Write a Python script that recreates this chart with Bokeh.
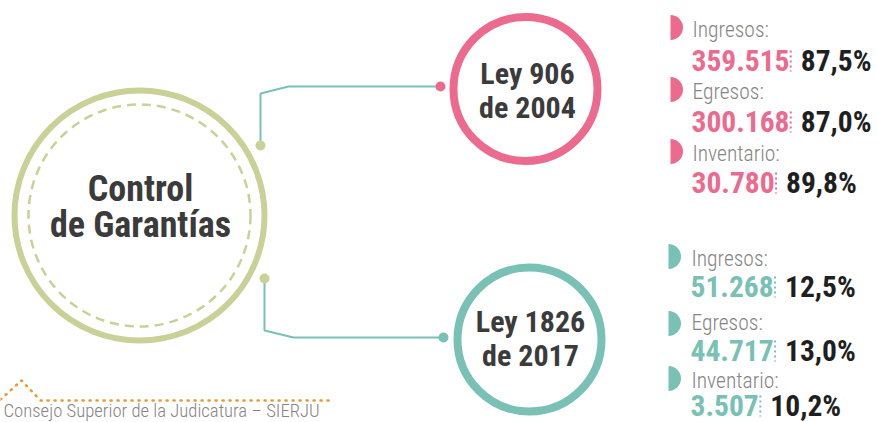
import math
from bokeh.plotting import figure
from bokeh.models import Range1d
from bokeh.core.properties import value
from bokeh.embed import file_html
from bokeh.resources import INLINE

# ---------------- data ----------------
center_title = ["Control", "de Garantías"]
law_906_title = ["Ley 906", "de 2004"]
law_1826_title = ["Ley 1826", "de 2017"]
categories = ["Ingresos:", "Egresos:", "Inventario:"]
counts_906 = [359515, 300168, 30780]
share_906 = [87.5, 87.0, 89.8]
counts_1826 = [51268, 44717, 3507]
share_1826 = [12.5, 13.0, 10.2]
source_note = "Consejo Superior de la Judicatura – SIERJU"

# ---------------- style ----------------
PINK = "#EC6A8E"
TEAL = "#79C1B4"
OLIVE = "#C9D196"
ORANGE = "#E8992F"
DARK = "#3B3B3B"
BLACK = "#1F1F1F"
GRAY = "#858585"
BOLD_FONT = "Roboto Condensed"
LIGHT_FONT = "Roboto Condensed Light"
BASE_SHIFT = 0.37  # svg text sits lower than the requested baseline by about this many em

def fmt_count(n):
    return f"{n:,}".replace(",", ".")

def fmt_share(v):
    return f"{v:.1f}".replace(".", ",") + "%"

def est_width(s, size):
    adv = {".": 0.24, ",": 0.24, "%": 0.6}
    return sum(adv.get(c, 0.498) for c in s) * size

def bl(ys, size):
    return [y - BASE_SHIFT * size for y in ys]

W, H = 877, 422
p = figure(width=W, height=H, x_range=Range1d(0, W), y_range=Range1d(H, 0),
           output_backend="svg", toolbar_location=None, x_axis_type=None, y_axis_type=None,
           min_border=0)
p.outline_line_color = None
p.background_fill_color = "white"
p.border_fill_color = "white"

# ---------------- connectors ----------------
p.line([260, 260, 288, 440], [145, 93, 86, 86], line_color=TEAL, line_width=2)
p.line([264, 264, 293, 443], [278, 330, 337, 337], line_color=TEAL, line_width=2)

# ---------------- main circle ----------------
MC = (139, 215)
p.circle(x=[MC[0]], y=[MC[1]], radius=125, fill_color="white", line_color=OLIVE, line_width=6)
p.circle(x=[MC[0]], y=[MC[1]], radius=111, fill_color=None, line_color=OLIVE, line_width=2.5,
         line_dash="9 6")
p.circle(x=[260, 264], y=[145, 278], radius=5, fill_color=OLIVE, line_color=None)
p.text(x=[140, 140], y=bl([202, 238], 36), text=center_title, text_font=value(BOLD_FONT),
       text_font_size=value("36px"), text_font_style="bold", text_color=DARK,
       text_align="center", text_baseline="alphabetic")

# ---------------- law circles ----------------
p.circle(x=[525], y=[88.5], radius=72, fill_color="white", line_color=PINK, line_width=8)
p.circle(x=[440], y=[86], radius=5, fill_color=PINK, line_color=None)
p.text(x=[527, 527], y=bl([84, 118], 30), text=law_906_title, text_font=value(BOLD_FONT),
       text_font_size=value("30px"), text_font_style="bold", text_color=DARK,
       text_align="center", text_baseline="alphabetic")

p.circle(x=[529], y=[339], radius=72, fill_color="white", line_color=TEAL, line_width=8)
p.circle(x=[443], y=[337], radius=5, fill_color=TEAL, line_color=None)
p.text(x=[530, 530], y=bl([332, 366], 30), text=law_1826_title, text_font=value(BOLD_FONT),
       text_font_size=value("30px"), text_font_style="bold", text_color=DARK,
       text_align="center", text_baseline="alphabetic")

# ---------------- figures per law ----------------
groups = [
    dict(color=PINK, counts=counts_906, shares=share_906, mx=670, tx=691,
         marker_y=[27, 89, 151], label_base=[37, 99, 161], num_base=[71, 132, 193]),
    dict(color=TEAL, counts=counts_1826, shares=share_1826, mx=668, tx=690,
         marker_y=[256, 323, 378], label_base=[266, 330, 388], num_base=[297, 361, 416]),
]
NUM_SIZE = 29.5
PCT_SIZE = 29.5
LABEL_SIZE = 21.5
for g in groups:
    n = len(categories)
    p.wedge(x=[g["mx"]] * n, y=g["marker_y"], radius=12.5, start_angle=-math.pi / 2,
            end_angle=math.pi / 2, fill_color=g["color"], line_color=None)
    p.text(x=[g["tx"] + 1] * n, y=bl(g["label_base"], LABEL_SIZE), text=categories,
           text_font=value(LIGHT_FONT), text_font_size=value(f"{LABEL_SIZE}px"),
           text_color=GRAY, text_align="left", text_baseline="alphabetic")
    nums = [fmt_count(c) for c in g["counts"]]
    pcts = [fmt_share(s) for s in g["shares"]]
    p.text(x=[g["tx"]] * n, y=bl(g["num_base"], NUM_SIZE), text=nums, text_font=value(BOLD_FONT),
           text_font_size=value(f"{NUM_SIZE}px"), text_font_style="bold", text_color=g["color"],
           text_align="left", text_baseline="alphabetic")
    sep_x = [g["tx"] + est_width(s, NUM_SIZE) + 4 for s in nums]
    p.segment(x0=sep_x, y0=[b - 21 for b in g["num_base"]], x1=sep_x, y1=g["num_base"],
              line_color=g["color"], line_width=2, line_dash="2 3")
    p.text(x=[sx + 10 for sx in sep_x], y=bl(g["num_base"], PCT_SIZE), text=pcts,
           text_font=value(BOLD_FONT), text_font_size=value(f"{PCT_SIZE}px"),
           text_font_style="bold", text_color=BLACK, text_align="left",
           text_baseline="alphabetic")

# ---------------- footer ----------------
p.line([0, 21, 40, 332], [399, 380, 400, 400], line_color=ORANGE, line_width=2.6,
       line_dash="1 6", line_cap="round")
p.text(x=[3], y=bl([417], 18.7), text=[source_note], text_font=value(LIGHT_FONT),
       text_font_size=value("18.7px"), text_color=GRAY, text_align="left",
       text_baseline="alphabetic")

open("out.html", "w").write(file_html(p, INLINE))
